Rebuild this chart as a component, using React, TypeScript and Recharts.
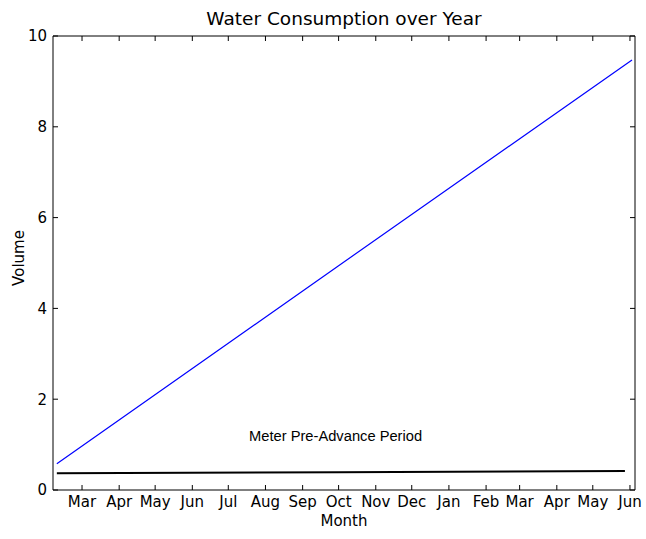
import React from 'react';
import { LineChart, Line, XAxis, YAxis, ReferenceDot } from 'recharts';

// x values are days counted from Jan 1 of the first year
const blueSeries = [
  { x: 38, y: 0.58 },
  { x: 273, y: 4.94 },
  { x: 517.7, y: 9.47 },
];
const blackSeries = [
  { x: 38, y: 0.37 },
  { x: 273, y: 0.39 },
  { x: 511.8, y: 0.42 },
];
const monthTicks = [59, 90, 120, 151, 181, 212, 243, 273, 304, 334, 365, 396, 424, 455, 485, 516];
const monthLabels = ['Mar', 'Apr', 'May', 'Jun', 'Jul', 'Aug', 'Sep', 'Oct', 'Nov', 'Dec', 'Jan', 'Feb', 'Mar', 'Apr', 'May', 'Jun'];
const yTicks = [0, 2, 4, 6, 8, 10];
const xDomain = [34.8, 520.2];
const annotation = { x: 198.3, y: 1.08, text: 'Meter Pre-Advance Period' };
const titleText = 'Water Consumption over Year';

const FONT = '"DejaVu Sans", sans-serif';
const TICK_FS = 15;
const TL = 5;

const fmtMonth = (v: number) => {
  const i = monthTicks.indexOf(v);
  return i >= 0 ? monthLabels[i] : '';
};

const BottomTick = (p: any) => {
  const axisY = p.y - 6;
  return (
    <g>
      <line x1={p.x} x2={p.x} y1={axisY} y2={axisY - TL} stroke="#000" strokeWidth={1} />
      <text x={p.x} y={p.y} dy={TICK_FS * 0.73} textAnchor="middle" fontFamily={FONT} fontSize={TICK_FS} fill="#000">
        {fmtMonth(p.payload.value)}
      </text>
    </g>
  );
};

const TopTick = (p: any) => (
  <line x1={p.x} x2={p.x} y1={p.y} y2={p.y + TL} stroke="#000" strokeWidth={1} />
);

const LeftTick = (p: any) => {
  const axisX = p.x + 6;
  return (
    <g>
      <line x1={axisX} x2={axisX + TL} y1={p.y} y2={p.y} stroke="#000" strokeWidth={1} />
      <text x={p.x} y={p.y} dy={TICK_FS * 0.36} textAnchor="end" fontFamily={FONT} fontSize={TICK_FS} fill="#000">
        {p.payload.value}
      </text>
    </g>
  );
};

const RightTick = (p: any) => (
  <line x1={p.x - TL} x2={p.x} y1={p.y} y2={p.y} stroke="#000" strokeWidth={1} />
);

export default function App() {
  return (
    <div style={{ position: 'absolute', left: 0, top: 0, width: 646, height: 539, background: '#fff' }}>
      <svg width={646} height={30} style={{ position: 'absolute', left: 0, top: 0 }}>
        <text x={344} y={25} textAnchor="middle" fontFamily={FONT} fontSize={18.5} fill="#000">
          {titleText}
        </text>
      </svg>
      <div style={{ position: 'absolute', left: 0, top: 0 }}>
        <LineChart width={646} height={539} margin={{ top: 35, right: 10, bottom: 0, left: 0 }}>
          <XAxis
            xAxisId="bottom"
            type="number"
            dataKey="x"
            domain={xDomain}
            allowDataOverflow
            ticks={monthTicks}
            interval={0}
            height={49}
            tickSize={0}
            tickMargin={6}
            tickLine={false}
            axisLine={{ stroke: '#000', strokeWidth: 1 }}
            tick={BottomTick}
            label={{ value: 'Month', position: 'insideBottom', offset: 13, fill: '#000', fontSize: TICK_FS, fontFamily: FONT }}
          />
          <XAxis
            xAxisId="top"
            orientation="top"
            type="number"
            dataKey="x"
            domain={xDomain}
            allowDataOverflow
            ticks={monthTicks}
            interval={0}
            height={1}
            tickSize={0}
            tickMargin={0}
            tickLine={false}
            tick={TopTick}
            axisLine={{ stroke: '#000', strokeWidth: 1 }}
          />
          <YAxis
            yAxisId="left"
            type="number"
            domain={[0, 10]}
            allowDataOverflow
            ticks={yTicks}
            interval={0}
            width={53}
            tickSize={0}
            tickMargin={6}
            tickLine={false}
            axisLine={{ stroke: '#000', strokeWidth: 1 }}
            tick={LeftTick}
            label={{
              content: (props: any) => {
                const vb = props.viewBox || {};
                const cy = (vb.y || 0) + (vb.height || 0) / 2 - 5;
                return (
                  <text
                    x={19}
                    y={cy}
                    transform={`rotate(-90, 19, ${cy})`}
                    textAnchor="middle"
                    dominantBaseline="central"
                    fontFamily={FONT}
                    fontSize={TICK_FS}
                    fill="#000"
                  >
                    Volume
                  </text>
                );
              },
            }}
          />
          <YAxis
            yAxisId="right"
            orientation="right"
            type="number"
            domain={[0, 10]}
            allowDataOverflow
            ticks={yTicks}
            interval={0}
            width={1}
            tickSize={0}
            tickMargin={0}
            tickLine={false}
            tick={RightTick}
            axisLine={{ stroke: '#000', strokeWidth: 1 }}
          />
          <Line
            xAxisId="bottom"
            yAxisId="left"
            data={blueSeries}
            dataKey="y"
            stroke="#0000ff"
            strokeWidth={1.2}
            dot={false}
            isAnimationActive={false}
          />
          <Line
            xAxisId="top"
            yAxisId="right"
            data={blackSeries}
            dataKey="y"
            stroke="#000000"
            strokeWidth={2}
            dot={false}
            isAnimationActive={false}
          />
          <ReferenceDot
            xAxisId="bottom"
            yAxisId="left"
            x={annotation.x}
            y={annotation.y}
            r={0}
            shape={(p: any) => (
              <text
                x={p.cx}
                y={p.cy}
                textAnchor="start"
                fontFamily='"Liberation Sans", Arial, sans-serif'
                fontSize={14.7}
                fill="#000"
              >
                {annotation.text}
              </text>
            )}
          />
        </LineChart>
      </div>
    </div>
  );
}
